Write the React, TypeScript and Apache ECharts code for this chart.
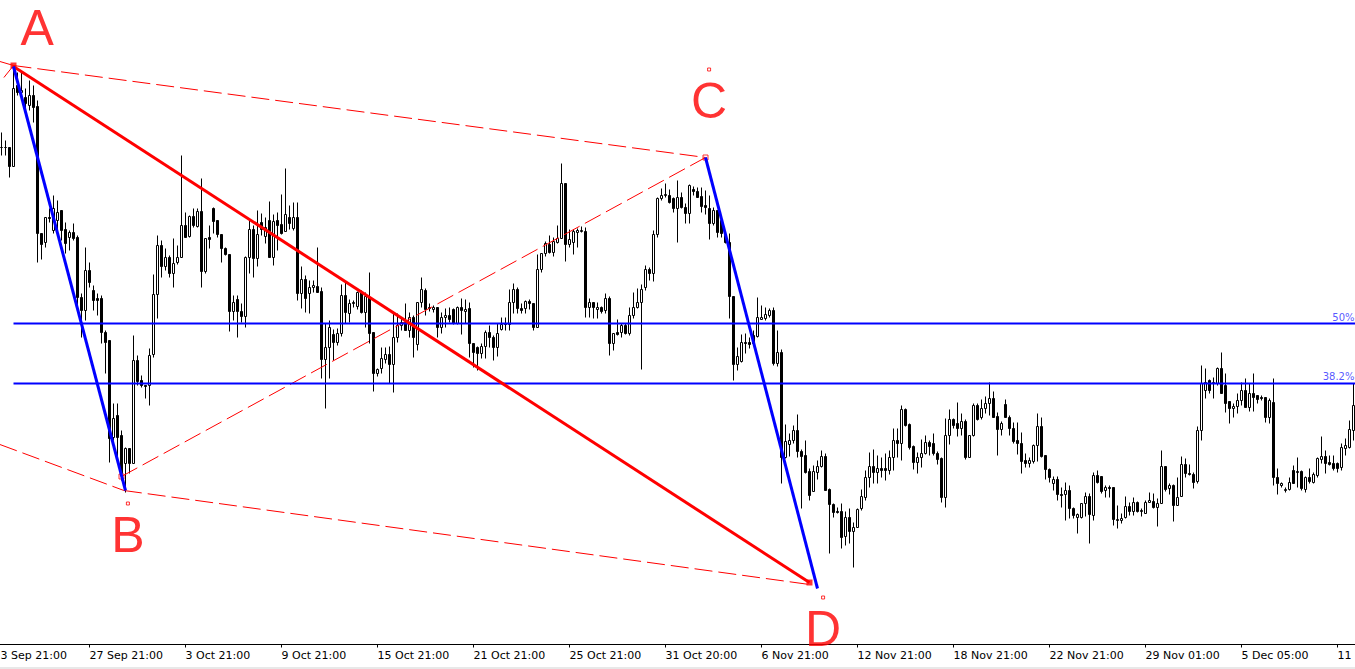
import React, { useEffect, useRef } from "react";
import * as echarts from "echarts";

// H4 candles. Prices are quoted in points above 1.1000 (1 point = 0.0001).
const open = [
  853, 853, 853, 834, 915, 908, 903, 895, 905, 894,
  767, 758, 783, 770, 780, 790, 771, 763, 768, 763,
  703, 690, 730, 710, 702, 702, 668, 660, 563, 585,
  565, 537, 552, 537, 640, 620, 615, 615, 646, 706,
  755, 734, 743, 727, 738, 743, 775, 764, 784, 774,
  789, 729, 763, 792, 780, 766, 752, 746, 689, 701,
  689, 684, 743, 771, 742, 778, 764, 780, 743, 780,
  776, 769, 783, 772, 783, 707, 721, 707, 713, 714,
  709, 641, 653, 666, 658, 667, 705, 687, 697, 694,
  708, 688, 703, 668, 627, 632, 641, 646, 636, 663,
  675, 678, 670, 683, 656, 698, 710, 693, 691, 693,
  673, 683, 685, 691, 677, 693, 689, 692, 657, 653,
  647, 654, 668, 663, 653, 671, 677, 676, 698, 711,
  692, 692, 699, 697, 673, 731, 747, 756, 748, 758,
  762, 817, 756, 758, 768, 769, 769, 693, 698, 691,
  693, 690, 702, 657, 668, 668, 675, 667, 685, 693,
  698, 713, 731, 727, 766, 802, 805, 805, 802, 792,
  803, 793, 787, 811, 809, 804, 795, 792, 777, 790,
  780, 765, 758, 704, 636, 639, 658, 658, 665, 664,
  681, 682, 685, 690, 637, 648, 543, 556, 560, 570,
  549, 545, 529, 509, 528, 534, 544, 511, 496, 489,
  489, 464, 483, 469, 473, 492, 503, 523, 534, 528,
  532, 532, 530, 543, 560, 557, 591, 576, 554, 538,
  543, 547, 558, 557, 547, 542, 503, 565, 581, 577,
  572, 579, 543, 565, 595, 583, 592, 597, 602, 584,
  571, 596, 583, 572, 560, 557, 540, 537, 539, 555,
  574, 545, 531, 517, 521, 506, 506, 510, 492, 483,
  483, 497, 504, 485, 525, 524, 510, 513, 513, 480,
  480, 483, 494, 489, 498, 489, 487, 498, 499, 493,
  497, 534, 512, 515, 495, 504, 536, 527, 526, 519,
  570, 610, 620, 617, 617, 632, 615, 599, 592, 594,
  600, 610, 593, 607, 605, 603, 603, 583, 598, 523,
  515, 510, 511, 530, 528, 529, 511, 523, 518, 525,
  541, 544, 538, 537, 537, 533, 552, 553, 570,
];

const close = [
  853, 853, 834, 912, 908, 910, 897, 905, 893, 767,
  756, 783, 782, 792, 788, 770, 757, 768, 762, 703,
  690, 730, 718, 700, 700, 668, 658, 562, 582, 563,
  527, 552, 537, 640, 619, 615, 614, 645, 706, 755,
  734, 743, 727, 737, 743, 775, 763, 784, 775, 789,
  729, 762, 761, 779, 766, 752, 746, 689, 698, 689,
  684, 743, 771, 742, 766, 771, 773, 743, 779, 775,
  767, 786, 777, 783, 707, 721, 702, 713, 715, 708,
  641, 653, 673, 658, 667, 705, 688, 697, 698, 708,
  688, 704, 667, 627, 631, 642, 646, 636, 663, 675,
  678, 670, 683, 663, 698, 711, 691, 692, 693, 673,
  683, 685, 681, 677, 693, 690, 691, 657, 648, 647,
  654, 668, 663, 653, 667, 676, 676, 698, 711, 692,
  690, 699, 697, 673, 731, 747, 757, 748, 759, 762,
  817, 756, 761, 769, 770, 770, 693, 698, 693, 693,
  689, 702, 657, 667, 666, 675, 667, 685, 693, 698,
  711, 731, 727, 766, 802, 805, 806, 798, 792, 803,
  793, 787, 815, 809, 803, 794, 793, 777, 790, 768,
  767, 758, 704, 636, 644, 658, 657, 656, 657, 683,
  683, 686, 690, 637, 648, 543, 559, 560, 570, 549,
  544, 528, 505, 529, 534, 544, 510, 496, 488, 488,
  463, 483, 469, 473, 491, 504, 523, 534, 528, 532,
  530, 530, 543, 560, 557, 591, 575, 553, 538, 543,
  547, 558, 554, 547, 541, 503, 565, 581, 575, 572,
  579, 543, 565, 595, 581, 592, 597, 602, 583, 571,
  577, 583, 572, 559, 557, 539, 537, 540, 555, 574,
  544, 531, 523, 521, 506, 505, 510, 492, 485, 486,
  497, 504, 486, 525, 518, 509, 513, 512, 481, 481,
  482, 494, 489, 498, 489, 490, 498, 500, 493, 497,
  534, 511, 515, 495, 503, 536, 527, 526, 518, 570,
  617, 618, 610, 618, 632, 607, 597, 592, 594, 600,
  610, 593, 607, 603, 601, 602, 583, 600, 523, 517,
  517, 511, 518, 517, 529, 512, 523, 519, 526, 542,
  544, 537, 536, 532, 532, 553, 555, 571, 595,
];

const low = [
  845, 845, 823, 834, 905, 907, 888, 890, 878, 738,
  741, 753, 778, 767, 770, 760, 747, 750, 760, 693,
  663, 680, 713, 690, 685, 657, 627, 538, 560, 540,
  520, 508, 527, 537, 615, 613, 602, 595, 643, 682,
  723, 730, 723, 713, 736, 743, 763, 763, 773, 773,
  713, 727, 752, 767, 763, 738, 745, 669, 680, 663,
  678, 673, 727, 723, 734, 765, 757, 743, 735, 750,
  766, 769, 771, 770, 700, 692, 688, 687, 708, 708,
  622, 592, 622, 640, 655, 664, 677, 678, 693, 691,
  687, 673, 657, 609, 624, 627, 637, 617, 608, 658,
  670, 670, 663, 643, 650, 693, 685, 689, 688, 663,
  667, 673, 678, 676, 676, 666, 677, 643, 633, 630,
  642, 642, 653, 640, 644, 670, 670, 670, 687, 687,
  687, 687, 691, 670, 673, 728, 744, 747, 744, 757,
  762, 739, 753, 746, 753, 768, 683, 683, 682, 682,
  687, 687, 645, 650, 665, 663, 666, 665, 682, 692,
  631, 710, 720, 719, 763, 800, 803, 797, 788, 758,
  792, 777, 777, 805, 803, 788, 786, 761, 775, 763,
  763, 757, 682, 620, 630, 638, 647, 652, 655, 663,
  681, 680, 683, 635, 634, 517, 542, 544, 557, 543,
  492, 527, 500, 509, 521, 533, 510, 447, 483, 487,
  452, 455, 457, 433, 473, 490, 500, 513, 517, 517,
  523, 520, 526, 530, 543, 540, 574, 551, 531, 527,
  533, 546, 545, 545, 536, 498, 493, 556, 572, 564,
  565, 541, 543, 564, 580, 581, 587, 585, 583, 545,
  565, 583, 565, 557, 546, 527, 533, 533, 537, 539,
  543, 521, 518, 510, 500, 493, 480, 482, 482, 467,
  482, 484, 457, 480, 517, 507, 503, 503, 475, 472,
  477, 482, 485, 485, 488, 484, 487, 498, 492, 474,
  497, 509, 506, 479, 495, 504, 523, 525, 512, 517,
  560, 602, 607, 602, 615, 607, 588, 577, 583, 587,
  595, 593, 589, 589, 597, 600, 578, 577, 515, 506,
  513, 508, 510, 517, 513, 510, 508, 517, 517, 523,
  537, 527, 535, 530, 528, 530, 545, 552, 560,
];

const high = [
  868, 860, 853, 935, 928, 929, 912, 920, 915, 900,
  767, 783, 792, 805, 800, 790, 778, 770, 777, 765,
  707, 753, 738, 715, 707, 705, 670, 660, 597, 597,
  570, 553, 552, 665, 645, 625, 615, 652, 726, 765,
  760, 752, 745, 762, 755, 845, 788, 785, 792, 792,
  822, 762, 775, 793, 780, 766, 753, 746, 705, 705,
  697, 744, 780, 775, 790, 787, 783, 799, 786, 788,
  806, 832, 795, 798, 798, 734, 725, 720, 720, 753,
  713, 677, 680, 671, 672, 716, 718, 701, 700, 709,
  710, 708, 728, 668, 632, 653, 653, 654, 687, 687,
  682, 697, 688, 685, 698, 723, 712, 697, 695, 693,
  688, 692, 693, 692, 694, 702, 701, 698, 657, 654,
  657, 670, 675, 665, 677, 683, 683, 711, 717, 713,
  697, 700, 701, 697, 746, 747, 759, 765, 763, 775,
  837, 817, 771, 771, 772, 774, 773, 702, 698, 698,
  694, 707, 704, 667, 681, 677, 677, 693, 708, 712,
  716, 735, 733, 770, 803, 812, 817, 811, 803, 820,
  808, 797, 816, 814, 813, 813, 810, 805, 793, 790,
  781, 768, 767, 704, 653, 666, 667, 663, 670, 703,
  695, 693, 692, 693, 670, 651, 576, 567, 575, 586,
  551, 560, 532, 535, 540, 550, 547, 512, 497, 493,
  497, 489, 492, 478, 492, 511, 530, 548, 551, 545,
  543, 547, 550, 572, 572, 595, 592, 577, 555, 548,
  561, 565, 560, 567, 549, 543, 582, 591, 582, 598,
  587, 581, 565, 597, 597, 601, 604, 618, 609, 588,
  579, 601, 585, 578, 578, 568, 547, 543, 556, 587,
  583, 545, 532, 524, 524, 513, 518, 515, 493, 487,
  497, 508, 507, 528, 530, 524, 515, 515, 513, 495,
  487, 504, 498, 503, 499, 492, 500, 508, 507, 502,
  550, 534, 517, 516, 523, 544, 542, 536, 528, 574,
  635, 632, 621, 623, 633, 648, 627, 599, 597, 607,
  618, 622, 617, 627, 605, 605, 603, 602, 622, 532,
  518, 513, 523, 535, 543, 530, 524, 532, 528, 543,
  564, 550, 545, 545, 538, 557, 562, 580, 617,
];

// Time-axis labels, one every 24 slots (4 trading days of H4 bars)
const tickLabels = [
  "23 Sep 21:00", "27 Sep 21:00", "3 Oct 21:00", "9 Oct 21:00", "15 Oct 21:00",
  "21 Oct 21:00", "25 Oct 21:00", "31 Oct 20:00", "6 Nov 21:00", "12 Nov 21:00",
  "18 Nov 21:00", "22 Nov 21:00", "29 Nov 01:00", "5 Dec 05:00", "11 Dec 09:00",
];
const TICK_EVERY = 24;
const LEAD = 2; // empty slots ahead of the first candle, where the first date tick sits

// Wave points: [bar index, points]
const ptA = [3, 934];
const ptB = [31, 510];
const ptC = [176, 843];
const ptD = [204, 412];
const ptDred = [202, 418];
const markA = [3, 935];
const markB = [30, 524];
const markC = [176, 843];
const markD = [202, 418];

// Channel (dashed) segments
const dashedSegments = [
  [[-0.4, 939], [3, 935]],
  [[0.6, 923], [3, 935]],
  [[3, 935], [176, 843]],
  [[30, 524], [176, 843]],
  [[-0.4, 556], [30.6, 510]],
  [[30.6, 510], [202, 416]],
];

// Retracement levels
const fibLow = 423;
const fibHigh = 931;
const fibRatios = [0.5, 0.382];
const fibLabels = ["50%", "38.2%"];
const fibStart = 3;

// Wave letters and their anchor points
const waveNames = ["A", "B", "C", "D"];
const waveAnchors = [
  [8.9, 1004],
  [31.6, 497],
  [176.9, 931],
  [205.4, 403],
];

const RED = "#ff0000";
const BLUE = "#0000ff";

function buildOption(): echarts.EChartsOption {
  const N = open.length;
  const slots = LEAD + N;
  const cats = Array.from({ length: slots }, (_, j) => String(j));
  const isTick = (j: number) => j % TICK_EVERY === 0;
  const candles = open.map((o, i) => [i + LEAD, o, close[i], low[i], high[i]]);
  const fibLevels = fibRatios.map((r) => fibLow + r * (fibHigh - fibLow));
  const rightEdge = N - 0.5;

  const seg = (pts: any[], color: string, width: number, type: any = "solid") => ({
    type: "line" as const,
    xAxisIndex: 1,
    yAxisIndex: 0,
    data: pts,
    symbol: "none",
    silent: true,
    lineStyle: { color, width, type },
    clip: false,
  });

  const series: any[] = [
    {
      type: "candlestick",
      xAxisIndex: 0,
      yAxisIndex: 0,
      data: candles,
      encode: { x: 0, y: [1, 2, 3, 4] },
      barWidth: 2,
      silent: true,
      itemStyle: {
        color: "#ffffff",
        color0: "#000000",
        borderColor: "#000000",
        borderColor0: "#000000",
        borderWidth: 1,
      },
    },
  ];

  dashedSegments.forEach((s) => series.push(seg(s, RED, 1, [18, 6])));

  fibLevels.forEach((level) => {
    series.push(seg([[fibStart, level], [rightEdge, level]], BLUE, 2));
  });

  // level captions at the right end of each retracement line
  series.push({
    type: "scatter",
    xAxisIndex: 1,
    yAxisIndex: 0,
    silent: true,
    clip: false,
    symbol: "circle",
    symbolSize: 1,
    itemStyle: { color: "rgba(0,0,0,0)" },
    data: fibLevels.map((level, k) => ({ name: fibLabels[k], value: [rightEdge, level] })),
    label: {
      show: true,
      formatter: "{b}",
      position: "top",
      align: "right",
      distance: 1,
      offset: [-1, 0],
      color: "#2a2aff",
      fontFamily: "DejaVu Sans",
      fontSize: 10,
    },
  });

  series.push(seg([ptA, ptDred], RED, 3));
  series.push(seg([ptA, ptB], BLUE, 3));
  series.push(seg([ptC, ptD], BLUE, 3));

  series.push({
    type: "scatter",
    xAxisIndex: 1,
    yAxisIndex: 0,
    silent: true,
    clip: false,
    symbol: "rect",
    data: [
      { value: markA, symbolSize: 6, itemStyle: { color: RED } },
      { value: markB, symbolSize: 5, itemStyle: { color: "#ffffff", borderColor: RED, borderWidth: 1 } },
      { value: markC, symbolSize: 5, itemStyle: { color: "#ffffff", borderColor: RED, borderWidth: 1 } },
      { value: markD, symbolSize: 6, itemStyle: { color: RED } },
    ],
  });

  series.push({
    type: "scatter",
    xAxisIndex: 1,
    yAxisIndex: 0,
    silent: true,
    clip: false,
    symbol: "rect",
    symbolSize: 3,
    itemStyle: { color: "#ffffff", borderColor: RED, borderWidth: 1 },
    data: waveNames.map((name, k) => ({ name, value: waveAnchors[k] })),
    label: {
      show: true,
      position: "bottom",
      distance: 4,
      formatter: "{b}",
      color: RED,
      fontFamily: "Liberation Sans, Arial, sans-serif",
      fontSize: 50,
    },
  });

  return {
    animation: false,
    backgroundColor: "#ffffff",
    grid: { left: 0.5, top: 0.5, width: 1364, height: 644, outerBoundsMode: "none", containLabel: false } as any,
    xAxis: [
      {
        type: "category",
        data: cats,
        boundaryGap: true,
        axisLine: { show: true, lineStyle: { color: "#000000", width: 1 } },
        axisTick: {
          show: true,
          interval: (j: number) => isTick(j),
          alignWithLabel: true,
          length: 3,
          lineStyle: { color: "#000000" },
        },
        axisLabel: {
          show: true,
          interval: (j: number) => isTick(j),
          formatter: (_v: string, j: number) => (isTick(j) ? tickLabels[j / TICK_EVERY] ?? "" : ""),
          align: "left",
          margin: 5,
          color: "#000000",
          fontFamily: "DejaVu Sans",
          fontSize: 11,
        },
        splitLine: { show: false },
      },
      { type: "value", min: -LEAD - 0.5, max: rightEdge, show: false, splitLine: { show: false } },
    ],
    yAxis: { type: "value", min: 356, max: 1000, show: false, splitLine: { show: false } },
    graphic: [
      {
        type: "rect",
        silent: true,
        shape: { x: 0, y: 667, width: 1364, height: 2 },
        style: { fill: "#e8e8e8" },
      },
    ],
    series,
  };
}

export default function App() {
  const ref = useRef<HTMLDivElement>(null);
  useEffect(() => {
    document.body.style.overflow = "hidden";
    const chart = echarts.init(ref.current!, undefined, { renderer: "svg" });
    chart.setOption(buildOption());
    return () => chart.dispose();
  }, []);
  return (
    <div
      ref={ref}
      style={{ position: "absolute", left: -9, top: 0, width: 1364, height: 669, background: "#ffffff" }}
    />
  );
}
